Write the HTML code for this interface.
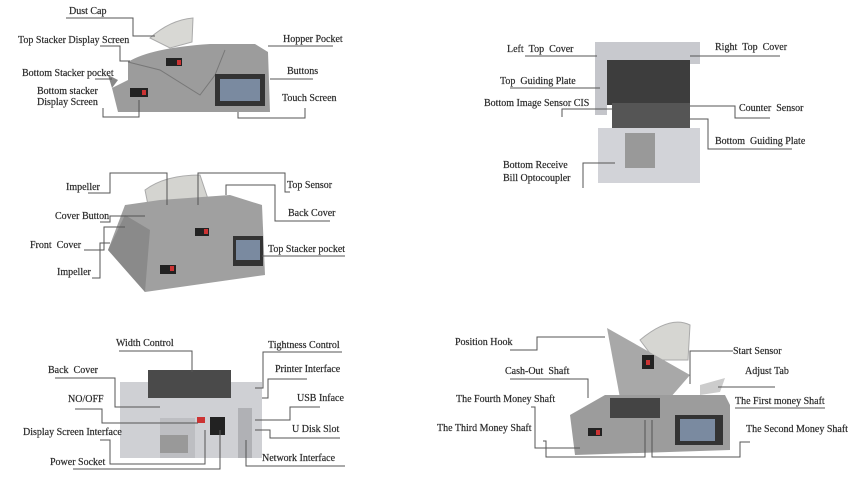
<!DOCTYPE html>
<html><head><meta charset="utf-8"><style>
html,body{margin:0;padding:0;background:#fff;}
svg{display:block}
text{font-family:"Liberation Serif",serif;font-size:10px;fill:#2a2a2a;stroke:#2a2a2a;stroke-width:0.2;font-weight:normal}
.l{stroke:#555;stroke-width:1;fill:none}
</style></head><body>
<svg width="850" height="477" viewBox="0 0 850 477">
<!-- Machine 1 -->
<g>
<path d="M150,38 Q170,20 193,18 L192,42 L170,48 Z" fill="#d8d8d4" stroke="#aaa"/>
<path d="M128,62 Q150,48 210,44 L255,44 L268,52 L270,112 L118,112 L112,88 L128,80 Z" fill="#9c9c9c"/>
<path d="M128,62 L160,70 L200,95 L215,75 L225,50" fill="none" stroke="#777"/>
<rect x="166" y="58" width="16" height="8" fill="#222"/><rect x="177" y="60" width="4" height="5" fill="#c33"/>
<rect x="130" y="88" width="18" height="9" fill="#222"/><rect x="142" y="90" width="4" height="5" fill="#c33"/>
<rect x="215" y="74" width="50" height="32" fill="#333"/><rect x="220" y="79" width="40" height="22" fill="#7a8aa0"/>
<path d="M112,88 L108,75 L118,80 Z" fill="#888"/>
</g>
<!-- Machine 2 -->
<g>
<path d="M145,190 Q165,175 200,175 L210,205 L150,215 Z" fill="#d4d4d0" stroke="#aaa"/>
<path d="M125,205 L160,200 L230,195 L262,205 L265,275 L145,292 L108,250 Z" fill="#a0a0a0"/>
<path d="M108,250 L145,292 L150,230 L125,215 Z" fill="#8a8a8a"/>
<rect x="195" y="228" width="14" height="8" fill="#222"/><rect x="204" y="229" width="4" height="5" fill="#c33"/>
<rect x="160" y="265" width="16" height="9" fill="#222"/><rect x="170" y="266" width="4" height="5" fill="#c33"/>
<rect x="233" y="236" width="30" height="30" fill="#333"/><rect x="236" y="240" width="24" height="20" fill="#7a8aa0"/>
</g>
<!-- Machine 3 -->
<g>
<rect x="120" y="382" width="142" height="76" fill="#cfd0d4"/>
<rect x="148" y="370" width="83" height="28" fill="#4a4a4a"/>
<rect x="160" y="418" width="35" height="40" fill="#bdbec2"/>
<rect x="197" y="417" width="8" height="6" fill="#c33"/>
<rect x="210" y="417" width="15" height="18" fill="#222"/>
<rect x="238" y="408" width="14" height="50" fill="#b0b1b5"/>
<rect x="160" y="435" width="28" height="18" fill="#999"/>
</g>
<!-- Machine 4 -->
<g>
<rect x="595" y="42" width="105" height="22" fill="#c8c9ce"/>
<rect x="605" y="60" width="85" height="45" fill="#3d3d3d"/>
<rect x="595" y="60" width="12" height="55" fill="#c4c5ca"/>
<rect x="612" y="103" width="78" height="25" fill="#555"/>
<rect x="598" y="128" width="102" height="55" fill="#d2d3d8"/>
<rect x="625" y="133" width="30" height="35" fill="#999"/>
</g>
<!-- Machine 5 -->
<g>
<path d="M640,340 Q670,315 690,325 L688,360 L655,360 Z" fill="#d6d6d2" stroke="#aaa"/>
<path d="M607,328 L690,375 L670,398 L620,398 Z" fill="#a8a8a8"/>
<rect x="642" y="355" width="12" height="14" fill="#222"/><rect x="646" y="360" width="4" height="5" fill="#c33"/>
<path d="M575,455 L570,415 L605,395 L725,395 L730,405 L730,450 Z" fill="#9c9c9c"/>
<rect x="610" y="398" width="50" height="20" fill="#444"/>
<rect x="588" y="428" width="14" height="8" fill="#222"/><rect x="596" y="430" width="4" height="5" fill="#c33"/>
<rect x="675" y="415" width="48" height="30" fill="#333"/><rect x="680" y="419" width="35" height="22" fill="#7a8aa0"/>
<path d="M700,385 L725,378 L720,392 L700,395 Z" fill="#ccc"/>
</g>

<!-- Panel 1 labels -->
<text x="69" y="14">Dust Cap</text>
<path class="l" d="M66,18 H133 V36 H155"/>
<text x="18" y="43">Top Stacker Display Screen</text>
<path class="l" d="M100,46 H120 V61 H130"/>
<text x="283" y="42">Hopper Pocket</text>
<path class="l" d="M268,46 H333"/>
<text x="22" y="76">Bottom Stacker pocket</text>
<path class="l" d="M95,79 H112"/>
<text x="287" y="74">Buttons</text>
<path class="l" d="M270,79 H313"/>
<text x="37" y="94">Bottom stacker</text>
<text x="37" y="105">Display Screen</text>
<path class="l" d="M103,108 V117 H139 V100"/>
<text x="282" y="101">Touch Screen</text>
<path class="l" d="M238,112 V118 H305 V108"/>

<!-- Panel 2 labels -->
<text x="66" y="190">Impeller</text>
<path class="l" d="M88,193 H110 V173 H167 V205"/>
<text x="287" y="188">Top Sensor</text>
<path class="l" d="M198,205 V173 H285 V192 H290"/>
<text x="55" y="219">Cover Button</text>
<path class="l" d="M100,222 H110 V216 H145"/>
<text x="288" y="216">Back Cover</text>
<path class="l" d="M226,195 V185 H275 V221 H330"/>
<text x="30" y="248">Front &#160;Cover</text>
<path class="l" d="M84,250 H104 V227 H125"/>
<text x="268" y="252">Top Stacker pocket</text>
<path class="l" d="M262,256 H345"/>
<text x="57" y="275">Impeller</text>
<path class="l" d="M92,278 H100 V243 H110"/>

<!-- Panel 3 labels -->
<text x="116" y="346">Width Control</text>
<path class="l" d="M119,351 H192 V372"/>
<text x="268" y="348">Tightness Control</text>
<path class="l" d="M255,388 H263 V352 H342"/>
<text x="48" y="373">Back &#160;Cover</text>
<path class="l" d="M55,378 H115 V407 H160"/>
<text x="275" y="372">Printer Interface</text>
<path class="l" d="M262,398 H268 V379 H307"/>
<text x="68" y="402">NO/OFF</text>
<path class="l" d="M75,409 H102 V423 H198"/>
<text x="297" y="401">USB Inface</text>
<path class="l" d="M255,420 H290 V407 H320"/>
<text x="23" y="435">Display Screen Interface</text>
<path class="l" d="M100,440 H110 V464 H205 V430"/>
<text x="292" y="432">U Disk Slot</text>
<path class="l" d="M255,430 H270 V438 H340"/>
<text x="50" y="465">Power Socket</text>
<path class="l" d="M73,469 H220 V430"/>
<text x="262" y="461">Network Interface</text>
<path class="l" d="M246,440 V466 H345"/>

<!-- Panel 4 labels -->
<text x="507" y="52">Left &#160;Top &#160;Cover</text>
<path class="l" d="M525,56 H597"/>
<text x="715" y="50">Right &#160;Top &#160;Cover</text>
<path class="l" d="M690,56 H780"/>
<text x="500" y="84">Top &#160;Guiding Plate</text>
<path class="l" d="M510,88 H600"/>
<text x="484" y="106">Bottom Image Sensor CIS</text>
<path class="l" d="M562,117 V109 H620"/>
<text x="739" y="111">Counter &#160;Sensor</text>
<path class="l" d="M690,106 H735 V118 H770"/>
<text x="715" y="144">Bottom &#160;Guiding Plate</text>
<path class="l" d="M688,119 H708 V149 H792"/>
<text x="503" y="168">Bottom Receive</text>
<text x="503" y="181">Bill Optocoupler</text>
<path class="l" d="M583,188 V163 H615"/>

<!-- Panel 5 labels -->
<text x="455" y="345">Position Hook</text>
<path class="l" d="M510,350 H537 V337 H605"/>
<text x="733" y="354">Start Sensor</text>
<path class="l" d="M690,384 V351 H733"/>
<text x="505" y="374">Cash-Out &#160;Shaft</text>
<path class="l" d="M510,379 H588 V398"/>
<text x="745" y="374">Adjust Tab</text>
<path class="l" d="M718,387 H775"/>
<text x="456" y="402">The Fourth Money Shaft</text>
<path class="l" d="M531,407 H535 V448 H580"/>
<text x="735" y="404">The First money Shaft</text>
<path class="l" d="M735,408 H825"/>
<text x="437" y="431">The Third Money Shaft</text>
<path class="l" d="M543,441 H546 V457 H645 V420"/>
<text x="746" y="432">The Second Money Shaft</text>
<path class="l" d="M652,420 V457 H740 V442 H750"/>
</svg>
</body></html>
